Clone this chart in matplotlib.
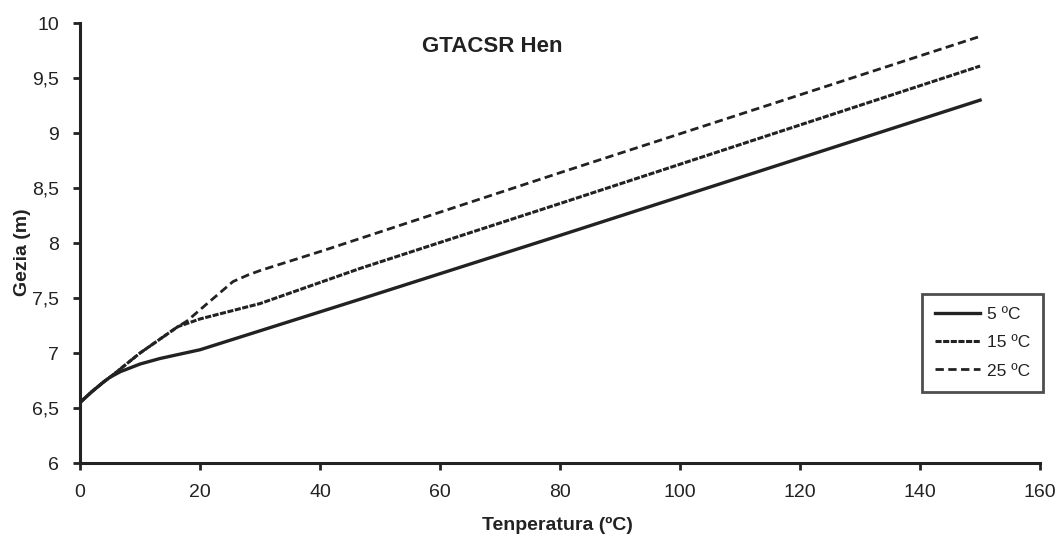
import matplotlib
matplotlib.use("Agg")
import matplotlib.pyplot as plt
from matplotlib.ticker import FuncFormatter, MultipleLocator

x_5 = [0, 2, 4, 5, 6.7, 10, 13.3, 20, 46.7, 80, 150]
y_5 = [6.55, 6.65, 6.74, 6.78, 6.83, 6.90, 6.95, 7.03, 7.49, 8.07, 9.30]

x_15 = [0, 2, 4, 5, 10, 16.3, 20, 30, 46.7, 80, 150]
y_15 = [6.55, 6.65, 6.74, 6.78, 7.00, 7.24, 7.31, 7.45, 7.77, 8.36, 9.61]

x_25 = [0, 2, 4, 5, 10, 16.3, 17.8, 21.2, 24, 25.5, 28, 30, 41, 80, 150]
y_25 = [6.55, 6.65, 6.74, 6.78, 7.00, 7.24, 7.29, 7.45, 7.58, 7.65, 7.71, 7.75, 7.94, 8.64, 9.88]

ink = '#222222'
plt.rcParams['font.family'] = ['Liberation Sans', 'DejaVu Sans']
narrow = ['Liberation Sans Narrow', 'Liberation Sans', 'DejaVu Sans']

fig = plt.figure(figsize=(10.57, 5.39), dpi=100)
ax = fig.add_axes([0.0757, 0.141, 0.9083, 0.816])

ax.plot(x_5, y_5, color=ink, lw=2.4, linestyle='-', label='5 ºC')
ax.plot(x_15, y_15, color=ink, lw=2.2, linestyle=(0, (2, 0.5)), label='15 ºC')
ax.plot(x_25, y_25, color=ink, lw=2.0, linestyle=(0, (3, 1.6)), label='25 ºC')

ax.set_xlim(0, 160)
ax.set_ylim(6, 10)
ax.xaxis.set_major_locator(MultipleLocator(20))
ax.yaxis.set_major_locator(MultipleLocator(0.5))
ax.yaxis.set_major_formatter(FuncFormatter(lambda v, p: ('%g' % v).replace('.', ',')))

for s in ['top', 'right']:
    ax.spines[s].set_visible(False)
for s in ['left', 'bottom']:
    ax.spines[s].set_linewidth(2.2)
    ax.spines[s].set_color(ink)
ax.tick_params(direction='out', length=5, width=2, color=ink, labelsize=14,
               labelcolor=ink)
ax.tick_params(axis='x', pad=10)
ax.tick_params(axis='y', pad=10)

ax.set_xlabel('Tenperatura (ºC)', fontsize=14, fontweight='bold', color=ink,
              family=narrow)
ax.set_ylabel('Gezia (m)', fontsize=14, fontweight='bold', color=ink,
              family=narrow)
ax.xaxis.set_label_coords(0.497, -0.122)
ax.yaxis.set_label_coords(-0.051, 0.48)
ax.text(0.429, 0.948, 'GTACSR Hen', transform=ax.transAxes, ha='center', va='center',
        fontsize=16, fontweight='bold', color=ink)

leg = ax.legend(loc='upper left', bbox_to_anchor=(0.872, 0.4545),
                bbox_transform=fig.transFigure, borderaxespad=0, fontsize=12.5,
                frameon=True, fancybox=False, handlelength=2.6, borderpad=0.75,
                labelspacing=0.75, handletextpad=0.4)
leg.get_frame().set_edgecolor(ink)
leg.get_frame().set_linewidth(2)
for t in leg.get_texts():
    t.set_color(ink)

fig.savefig('out.png', dpi=100)
